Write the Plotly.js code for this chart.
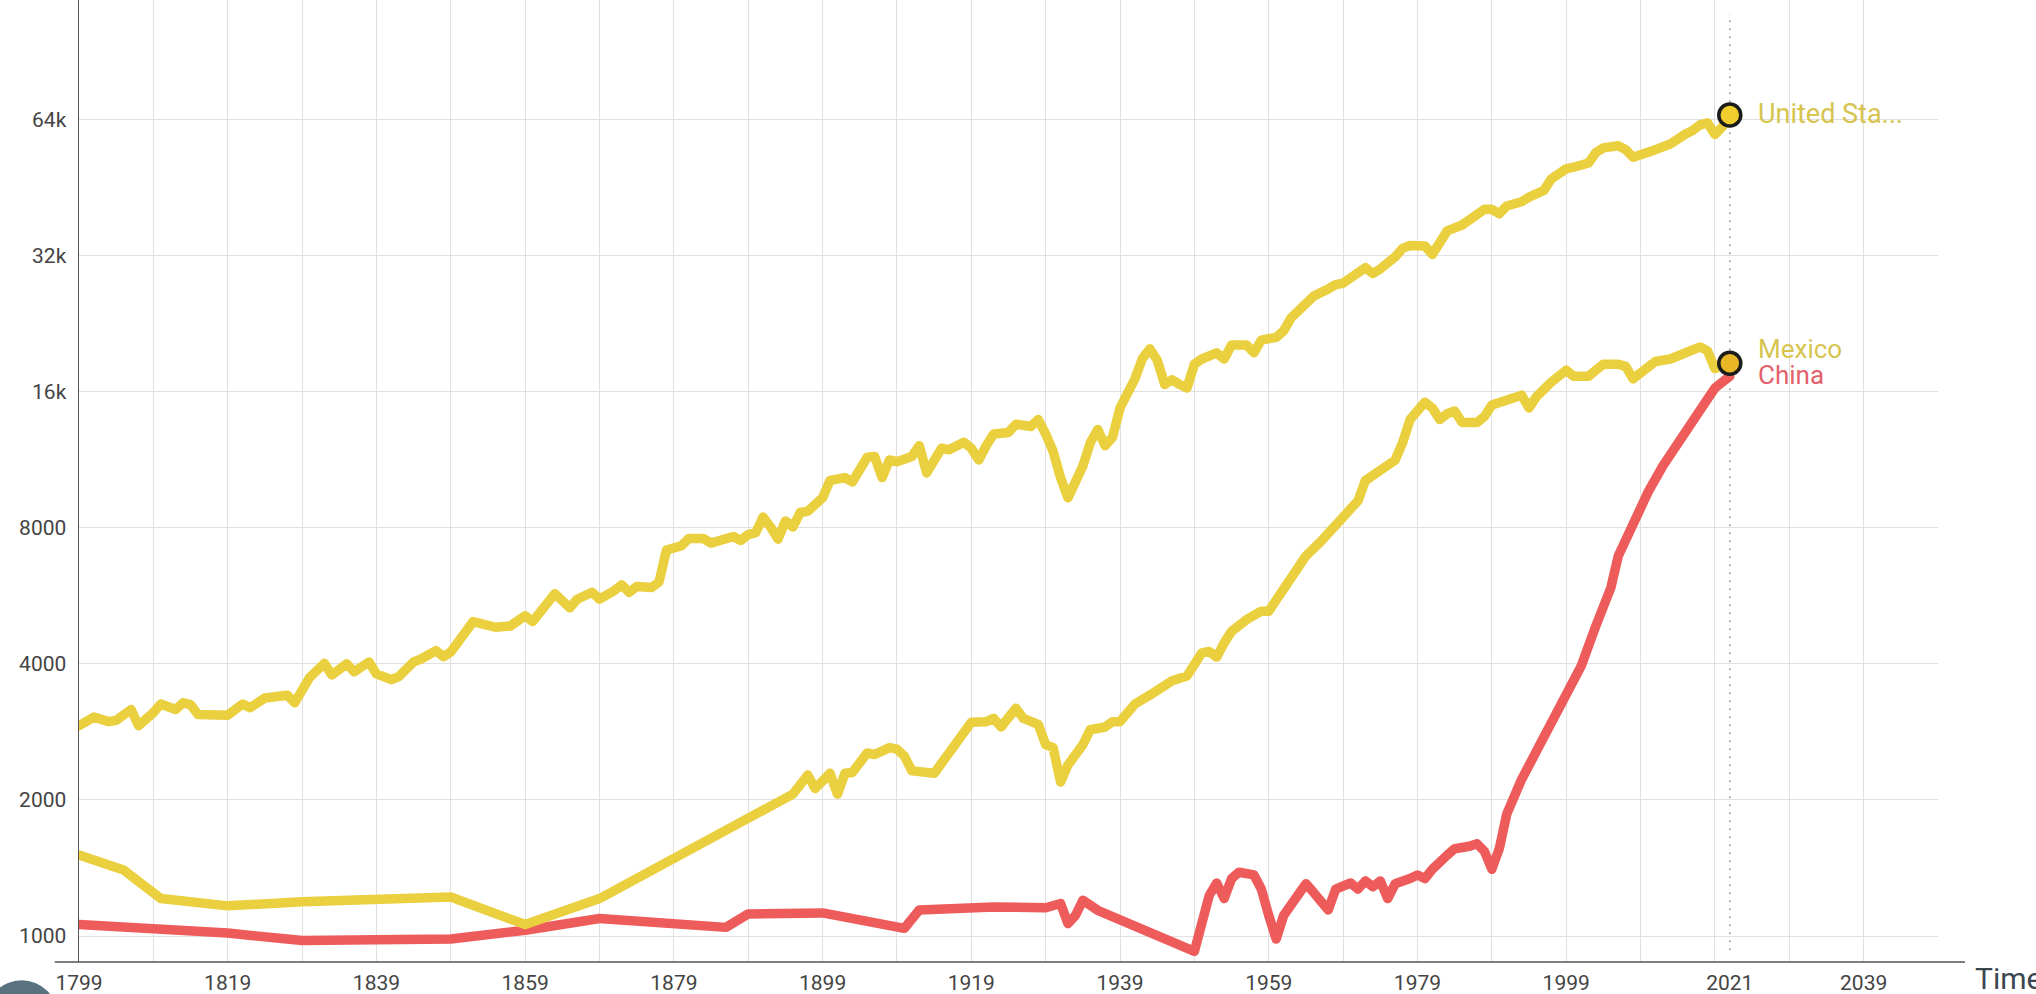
<!DOCTYPE html>
<html>
<head>
<meta charset="utf-8">
<script src="https://cdn.plot.ly/plotly-3.0.1.min.js"></script>
<style>
  html, body { margin: 0; padding: 0; background: #fff; overflow: hidden; }
  #chart { width: 2036px; height: 994px; }
  .scatterlayer .js-line { stroke-linejoin: round !important; stroke-linecap: round !important; }
</style>
</head>
<body>
<div id="chart"></div>
<script>
// ---------------- data ----------------
const usYears = [1799,1801,1803,1804,1806,1807,1809,1810,1812,1813,1814,1815,1819,1821,1822,1824,1827,1828,1830,1832,
  1833,1835,1836,1838,1839,1841,1842,1844,1845,1847,1848,1849,1852,1853,1854,1855,1857,1859,1860,1862,
  1863,1865,1866,1868,1869,1871,1872,1873,1874,1876,1877,1878,1880,1881,1883,1884,1885,1887,1888,1889,
  1890,1891,1892,1893,1894,1895,1896,1897,1899,1900,1901,1902,1903,1905,1906,1907,1908,1909,1911,1912,
  1913,1914,1915,1916,1918,1919,1920,1921,1922,1924,1925,1927,1928,1929,1930,1931,1932,1934,1935,1936,
  1937,1938,1939,1941,1942,1943,1944,1945,1946,1947,1948,1949,1950,1952,1953,1954,1956,1957,1958,1960,
  1961,1962,1964,1965,1967,1968,1969,1971,1972,1973,1974,1976,1977,1978,1980,1981,1982,1983,1985,1987,
  1988,1989,1990,1991,1993,1994,1996,1997,1999,2000,2002,2003,2004,2006,2007,2008,2009,2011,2013,2014,
  2015,2016,2017,2018,2019,2020,2021];
const usGdp = [2920,3050,2980,3000,3170,2920,3120,3260,3170,3280,3250,3090,3080,3260,3200,3360,3410,3280,3730,4010,
  3780,4000,3840,4040,3800,3690,3750,4040,4100,4280,4150,4250,4960,4900,4900,4820,4850,5110,4960,5390,
  5720,5320,5560,5760,5560,5810,5980,5760,5930,5900,6070,7140,7300,7570,7570,7400,7500,7650,7500,7730,
  7800,8450,8030,7550,8280,8030,8650,8700,9320,10180,10250,10330,10100,11460,11500,10330,11300,11200,11500,12150,
  10580,11300,12000,11900,12370,12000,11300,12150,12900,13000,13560,13400,13880,12900,11800,10330,9320,10960,12340,13200,
  12150,12700,14730,17080,18940,19900,18800,16600,17000,16600,16300,18400,18900,19500,18900,20300,20300,19500,20800,21100,
  21800,23300,25100,26000,27000,27600,27800,29100,30100,29200,29900,31800,33200,33700,33600,32200,34200,36300,37400,39100,
  40500,40500,39600,41200,42100,43100,44600,47300,49800,50200,51300,54100,55400,56000,54900,52800,53700,54900,56500,58200,
  59400,60500,62300,62900,59300,61700,65500];

const mxYears = [1799,1801,1805,1807,1810,1819,1829,1849,1859,1869,1895,1897,1898,1900,1901,1902,1903,1905,1906,1908,
  1909,1910,1911,1912,1914,1916,1918,1919,1921,1922,1923,1925,1926,1928,1929,1930,1931,1932,1934,1935,
  1937,1938,1939,1941,1943,1944,1946,1948,1950,1951,1952,1953,1954,1956,1958,1959,1960,1961,1963,1964,
  1966,1968,1970,1971,1972,1974,1976,1977,1978,1980,1981,1982,1983,1984,1985,1987,1988,1989,1991,1993,
  1994,1995,1997,1999,2000,2002,2003,2004,2006,2007,2008,2010,2011,2013,2015,2017,2018,2019,2020,2021];
const mxGdp = [1510,1470,1400,1320,1210,1166,1190,1220,1060,1210,2060,2270,2120,2290,2060,2290,2300,2540,2520,2610,
  2590,2500,2320,2310,2290,2540,2810,2970,2980,3030,2900,3190,3030,2940,2650,2610,2190,2390,2650,2860,
  2900,2980,2980,3260,3410,3510,3670,3760,4230,4260,4140,4450,4720,5010,5230,5230,5520,5800,6440,6930,
  7460,8160,8780,9180,10180,10800,11290,12340,13880,15170,14730,13880,14300,14500,13680,13680,14100,14950,15400,15720,
  14730,15600,16800,17850,17300,17300,17850,18400,18400,18200,17080,18100,18660,18900,19500,20100,19700,18000,18300,18500];

const cnYears = [1799,1809,1819,1829,1839,1849,1859,1869,1886,1889,1899,1910,1912,1922,1929,1931,1932,1933,1934,1936,
  1949,1950,1951,1952,1953,1954,1955,1957,1958,1959,1960,1961,1963,1964,1965,1967,1968,1970,1971,1972,
  1973,1974,1975,1976,1978,1979,1980,1981,1983,1984,1986,1987,1988,1989,1990,1991,1993,1995,1997,1999,
  2001,2003,2005,2006,2008,2010,2012,2014,2016,2018,2019,2020,2021];
const cnGdp = [1060,1040,1015,977,977,985,1030,1093,1045,1119,1125,1040,1142,1159,1155,1180,1065,1110,1200,1140,
  925,1060,1230,1310,1210,1340,1384,1365,1270,1110,985,1110,1230,1305,1250,1142,1270,1310,1270,1324,
  1285,1324,1210,1305,1340,1365,1340,1405,1510,1560,1580,1600,1540,1405,1560,1860,2220,2580,2980,3410,
  3950,4860,5890,6930,8160,9590,10960,12340,13970,15400,16300,16700,17300];

const countryNames = ['United Sta...', 'Mexico', 'China'];
const currentYear = 2021;
const currentYearLabel = '2021';

const gridYears = [1799,1809,1819,1829,1839,1849,1859,1869,1879,1889,1899,1909,1919,1929,1939,1949,1959,1969,1979,1989,1999,2009,2019,2029,2039,2049];
const xTickText = ['1799','','1819','','1839','','1859','','1879','','1899','','1919','','1939','','1959','','1979','','1999','','','','2039',''];
const yTickVals = [1000,2000,4000,8000,16000,32000,64000];
const yTickText = ['1000','2000','4000','8000','16k','32k','64k'];
const xAxisTitle = 'Time';

// ---------------- sanity ----------------
[[usYears,usGdp],[mxYears,mxGdp],[cnYears,cnGdp],[gridYears,xTickText],[yTickVals,yTickText]].forEach(function(p,i){
  if (p[0].length !== p[1].length) throw new Error('length mismatch in pair ' + i + ': ' + p[0].length + ' vs ' + p[1].length);
});

// ---------------- style ----------------
const YEL = '#eacf3e';
const RED = '#ee5b5b';
const LW = 9.5;
const FONT = 'Roboto, "Open Sans", sans-serif';

const last = a => a[a.length - 1];

const traces = [
  {x: cnYears, y: cnGdp, mode: 'lines', line: {color: RED, width: LW}, hoverinfo: 'skip'},
  {x: mxYears, y: mxGdp, mode: 'lines', line: {color: YEL, width: LW}, hoverinfo: 'skip'},
  {x: usYears, y: usGdp, mode: 'lines', line: {color: YEL, width: LW}, hoverinfo: 'skip'},
  {x: [last(mxYears)], y: [last(mxGdp)], mode: 'markers', cliponaxis: false,
   marker: {size: 22, color: '#e9b726', line: {color: '#1c1c1c', width: 3.5}}, hoverinfo: 'skip'},
  {x: [last(usYears)], y: [last(usGdp)], mode: 'markers', cliponaxis: false,
   marker: {size: 22, color: '#efce2e', line: {color: '#1c1c1c', width: 3.5}}, hoverinfo: 'skip'},
  {x: [], y: [], xaxis: 'x2', yaxis: 'y', mode: 'lines', hoverinfo: 'skip'}
];

const W = 2036, H = 994;
const L = 79.3, R = 98, T = 0, B = 32.3;
const PW = W - L - R, PH = H - T - B;
const px2paperX = px => (px - L) / PW;
const px2paperY = py => (H - B - py) / PH;

const tickFont = {family: FONT, size: 21, color: '#444'};

const layout = {
  width: W, height: H,
  margin: {l: L, r: R, t: T, b: B, pad: 0},
  paper_bgcolor: '#ffffff', plot_bgcolor: '#ffffff',
  showlegend: false,
  font: {family: FONT, color: '#444'},
  xaxis: {
    range: [1799, 2049], tickmode: 'array', tickvals: gridYears, ticktext: xTickText,
    showgrid: true, gridcolor: '#e0e0e0', gridwidth: 1, zeroline: false, showline: false,
    ticks: '', ticklabelstandoff: 6, tickfont: tickFont, fixedrange: true
  },
  xaxis2: {
    overlaying: 'x', anchor: 'y', side: 'bottom',
    range: [1799, 2049], tickmode: 'array', tickvals: [currentYear], ticktext: [currentYearLabel],
    showgrid: false, zeroline: false, showline: false,
    ticks: '', ticklabelstandoff: 6, tickfont: tickFont, fixedrange: true
  },
  yaxis: {
    type: 'log', range: [2.9425, 5.0706], tickmode: 'array', tickvals: yTickVals, ticktext: yTickText,
    showgrid: true, gridcolor: '#e0e0e0', gridwidth: 1, zeroline: false,
    showline: true, linecolor: '#555', linewidth: 1.5,
    ticks: '', ticklabelstandoff: 7, tickfont: tickFont, fixedrange: true
  },
  shapes: [
    // extended x axis line
    {type: 'line', xref: 'paper', yref: 'paper', x0: px2paperX(55), x1: px2paperX(1965), y0: 0, y1: 0,
     line: {color: '#555', width: 1.5}, layer: 'above'},
    // current time dotted marker line
    {type: 'line', xref: 'x', yref: 'paper', x0: currentYear, x1: currentYear, y0: px2paperY(950), y1: px2paperY(14),
     line: {color: '#a3a3a3', width: 1.6, dash: '2px,6px'}, layer: 'below'},
    // play button fragment bottom-left
    {type: 'circle', xref: 'paper', yref: 'paper', x0: px2paperX(-14), x1: px2paperX(58), y0: px2paperY(1052), y1: px2paperY(980),
     fillcolor: '#587280', line: {width: 0}, layer: 'above'}
  ],
  annotations: [
    {xref: 'x', yref: 'y', x: last(usYears), y: Math.log10(last(usGdp)), xanchor: 'left', yanchor: 'middle',
     xshift: 26, yshift: 1, text: countryNames[0], showarrow: false, font: {family: FONT, size: 27, color: '#d6c44e'}},
    {xref: 'x', yref: 'y', x: last(mxYears), y: Math.log10(last(mxGdp)), xanchor: 'left', yanchor: 'middle',
     xshift: 26, yshift: 14, text: countryNames[1], showarrow: false, font: {family: FONT, size: 26, color: '#d6c44e'}},
    {xref: 'x', yref: 'y', x: last(cnYears), y: Math.log10(last(cnGdp)), xanchor: 'left', yanchor: 'middle',
     xshift: 26, yshift: 1, text: countryNames[2], showarrow: false, font: {family: FONT, size: 26, color: '#e4616b'}},
    {xref: 'paper', yref: 'paper', x: px2paperX(1973), y: px2paperY(978), xanchor: 'left', yanchor: 'middle',
     text: xAxisTitle, showarrow: false, font: {family: FONT, size: 30, color: '#3b4750'}}
  ]
};

Plotly.newPlot('chart', traces, layout, {staticPlot: true, displayModeBar: false});
</script>
</body>
</html>
